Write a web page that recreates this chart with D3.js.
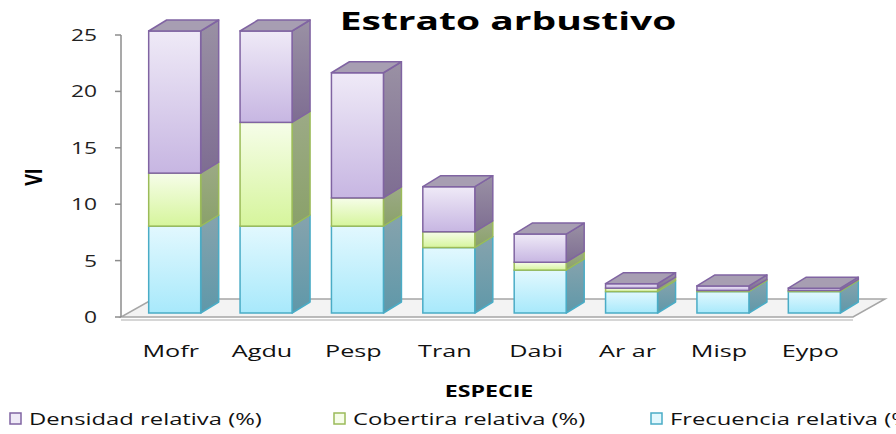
<!DOCTYPE html>
<html>
<head>
<meta charset="utf-8">
<script src="https://cdn.jsdelivr.net/npm/d3@7"></script>
<style>
  body { margin: 0; background: #fff; }
  svg { display: block; font-family: "Open Sans", sans-serif; }
</style>
</head>
<body>
<div id="chart"></div>
<script>
const width = 896,
    height = 434;

// datos
const especies = ['Mofr', 'Agdu', 'Pesp', 'Tran', 'Dabi', 'Ar ar', 'Misp', 'Eypo'];
const frecuencia = [7.7, 7.7, 7.7, 5.8, 3.8, 1.9, 1.9, 1.9];
const cobertura = [4.7, 9.2, 2.5, 1.4, 0.7, 0.3, 0.1, 0.1];
const densidad = [12.6, 8.1, 11.1, 4.0, 2.5, 0.4, 0.4, 0.2];
const yTicks = [0, 5, 10, 15, 20, 25];
const seriesNames = ['Frecuencia relativa (%)', 'Cobertira relativa (%)', 'Densidad relativa (%)'];
const legendOrder = ['Densidad relativa (%)', 'Cobertira relativa (%)', 'Frecuencia relativa (%)'];

// colores: frente (arriba, abajo), borde, lado, tapa
const colores = {
    'Frecuencia relativa (%)': { f1: '#e2f8fe', f2: '#a8e9fb', stroke: '#4aacc6', s1: '#86a3ad', s2: '#5f98a9' },
    'Cobertira relativa (%)': { f1: '#f6fde9', f2: '#d6f59c', stroke: '#9bbb59', s1: '#9caa86', s2: '#8aa16a' },
    'Densidad relativa (%)': { f1: '#efeaf7', f2: '#c7b6e2', stroke: '#8064a2', s1: '#9a91a4', s2: '#7e6d92', top: '#a79eb2' }
};

// el gráfico original está estirado horizontalmente
const sx = 1.4;
const dx = 18, dy = 11; // profundidad 3D

const svg = d3.select('#chart')
    .append('svg')
    .attr('width', width)
    .attr('height', height);

const defs = svg.append('defs');
seriesNames.forEach(function(name, i) {
    const c = colores[name];
    const g1 = defs.append('linearGradient').attr('id', 'front' + i)
        .attr('x1', 0).attr('y1', 0).attr('x2', 0).attr('y2', 1);
    g1.append('stop').attr('offset', '0%').attr('stop-color', c.f1);
    g1.append('stop').attr('offset', '100%').attr('stop-color', c.f2);
    const g2 = defs.append('linearGradient').attr('id', 'side' + i)
        .attr('x1', 0).attr('y1', 0).attr('x2', 0).attr('y2', 1);
    g2.append('stop').attr('offset', '0%').attr('stop-color', c.s1);
    g2.append('stop').attr('offset', '100%').attr('stop-color', c.s2);
});

// escalas
const y = d3.scaleLinear()
    .domain([0, 25])
    .range([317, 35]);

const x = d3.scalePoint()
    .domain(especies)
    .range([129, 860])
    .padding(0.5);

const barW = 52;
const shift = 4; // la cara frontal está un poco por encima del eje

// piso
const floor = svg.append('g');
floor.append('path')
    .attr('d', 'M121,317 L853,317 L885,299 L153,299 Z')
    .attr('fill', '#f3f3f3')
    .attr('stroke', '#a6a6a6')
    .attr('stroke-width', 1.5);
floor.append('line')
    .attr('x1', 121).attr('x2', 853).attr('y1', 320).attr('y2', 320)
    .attr('stroke', '#c8c8c8').attr('stroke-width', 1.5);

// eje y
const axis = svg.append('g');
axis.append('line')
    .attr('x1', 121).attr('x2', 121)
    .attr('y1', y(25)).attr('y2', y(0))
    .attr('stroke', '#8c8c8c').attr('stroke-width', 1.5);
axis.selectAll('.tick')
    .data(yTicks)
    .enter()
    .append('line')
    .attr('x1', 115).attr('x2', 121)
    .attr('y1', function(d) { return y(d); })
    .attr('y2', function(d) { return y(d); })
    .attr('stroke', '#8c8c8c').attr('stroke-width', 1.5);
axis.selectAll('text')
    .data(yTicks)
    .enter()
    .append('text')
    .attr('transform', function(d) { return 'translate(97,' + (y(d) + 6) + ') scale(1.38,1)'; })
    .attr('text-anchor', 'end')
    .attr('font-size', 16.5)
    .attr('fill', '#222')
    .text(function(d) { return d; });

// barras apiladas
const data = especies.map(function(e, i) {
    return { name: e, Frecuencia: frecuencia[i], Cobertura: cobertura[i], Densidad: densidad[i] };
});
const stack = d3.stack().keys(['Frecuencia', 'Cobertura', 'Densidad'])(data);

const bars = svg.append('g');
stack.forEach(function(layer, si) {
    const c = colores[seriesNames[si]];
    layer.forEach(function(seg, i) {
        const x0 = x(especies[i]) - barW / 2;
        const yb = y(seg[0]) - shift;
        const yt = y(seg[1]) - shift;
        const g = bars.append('g');
        // lado
        g.append('path')
            .attr('d', 'M' + (x0 + barW) + ',' + yt + ' L' + (x0 + barW + dx) + ',' + (yt - dy) +
                ' L' + (x0 + barW + dx) + ',' + (yb - dy) + ' L' + (x0 + barW) + ',' + yb + ' Z')
            .attr('fill', 'url(#side' + si + ')')
            .attr('stroke', c.stroke).attr('stroke-width', 1.5)
            .attr('stroke-linejoin', 'round');
        // frente
        g.append('rect')
            .attr('x', x0).attr('y', yt)
            .attr('width', barW).attr('height', Math.max(yb - yt, 0.5))
            .attr('fill', 'url(#front' + si + ')')
            .attr('stroke', c.stroke).attr('stroke-width', 1.5);
        // tapa
        if (si === stack.length - 1) {
            g.append('path')
                .attr('d', 'M' + x0 + ',' + yt + ' L' + (x0 + dx) + ',' + (yt - dy) +
                    ' L' + (x0 + barW + dx) + ',' + (yt - dy) + ' L' + (x0 + barW) + ',' + yt + ' Z')
                .attr('fill', c.top)
                .attr('stroke', c.stroke).attr('stroke-width', 1.5)
                .attr('stroke-linejoin', 'round');
        }
    });
});

// etiquetas de categorías
svg.append('g').selectAll('text')
    .data(especies)
    .enter()
    .append('text')
    .attr('transform', function(d) { return 'translate(' + (x(d) - 4) + ',357) scale(1.48,1)'; })
    .attr('text-anchor', 'middle')
    .attr('font-size', 17)
    .attr('fill', '#111')
    .text(function(d) { return d; });

// títulos
svg.append('text')
    .attr('transform', 'translate(508,30) scale(1.56,1)')
    .attr('text-anchor', 'middle')
    .attr('font-size', 25)
    .attr('font-weight', 'bold')
    .attr('fill', '#000')
    .text('Estrato arbustivo');

svg.append('text')
    .attr('transform', 'translate(489,397) scale(1.45,1)')
    .attr('text-anchor', 'middle')
    .attr('font-size', 16)
    .attr('font-weight', 'bold')
    .attr('fill', '#000')
    .text('ESPECIE');

svg.append('text')
    .attr('transform', 'translate(42,177) rotate(-90) scale(1,1.3)')
    .attr('text-anchor', 'middle')
    .attr('font-size', 18)
    .attr('font-weight', 'bold')
    .attr('fill', '#000')
    .text('VI');

// leyenda
const legendX = [10, 334, 651];
const legend = svg.append('g');
legendOrder.forEach(function(name, i) {
    const c = colores[name];
    legend.append('rect')
        .attr('x', legendX[i]).attr('y', 413)
        .attr('width', 11).attr('height', 11)
        .attr('fill', c.f1)
        .attr('stroke', c.stroke).attr('stroke-width', 1.5);
    legend.append('text')
        .attr('transform', 'translate(' + (legendX[i] + 19) + ',425) scale(' + sx + ',1)')
        .attr('font-size', 17)
        .attr('fill', '#111')
        .text(name);
});
</script>
</body>
</html>
